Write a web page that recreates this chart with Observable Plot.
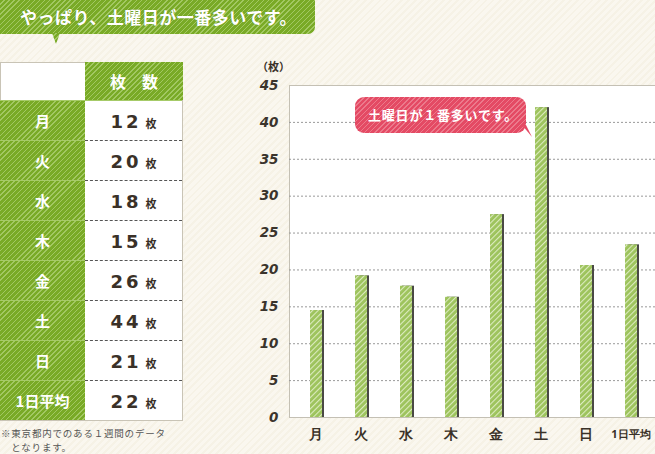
<!DOCTYPE html>
<html><head><meta charset="utf-8">
<script src="https://cdn.jsdelivr.net/npm/d3@7"></script>
<script src="https://cdn.jsdelivr.net/npm/@observablehq/plot@0.6"></script>
<style>
body{margin:0;}
#wrap{position:relative;width:655px;height:454px;overflow:hidden;font-family:"Noto Sans CJK JP",sans-serif;
 background:repeating-linear-gradient(135deg,#faf7ef 0 3px,#f6f2e6 3px 5px);}
#chart{position:absolute;left:0;top:0;}
.green{background:repeating-linear-gradient(135deg,#79aa26 0 2.6px,#a2c862 2.6px 3.6px);}
#banner{position:absolute;left:0;top:0;width:315px;height:34px;border-radius:0 0 7px 0;color:#fff;font-weight:bold;font-size:17px;line-height:34px;padding-left:20px;box-sizing:border-box;letter-spacing:0.5px;text-shadow:0 0 1px rgba(0,0,0,0.2);}
#bannerTail{position:absolute;left:52px;top:33px;width:8px;height:11px;clip-path:polygon(0 0,100% 0,50% 100%);}
.cell{position:absolute;box-sizing:border-box;}
.lab{color:#fff;font-weight:bold;font-size:15px;text-align:center;border-top:1px solid #9cc45a;}
.num{background:#fff;text-align:center;border-top:1px dashed #555;color:#3a3128;}
.num b{font-family:"DejaVu Sans",sans-serif;font-size:18px;letter-spacing:3px;font-weight:bold;}
.num i{font-style:normal;font-size:11px;font-weight:bold;margin-left:4px;}
#note{position:absolute;left:1px;top:426px;font-size:9.5px;color:#555;line-height:14px;letter-spacing:0.8px;}
#unit{position:absolute;left:257px;top:58px;font-size:11px;font-weight:bold;color:#3a3128;}
#callout{position:absolute;left:355px;top:97px;width:171px;height:36px;border-radius:9px;color:#fff;font-weight:bold;font-size:13px;line-height:36px;padding-left:13px;box-sizing:border-box;letter-spacing:0.8px;
 background:repeating-linear-gradient(135deg,#e44a64 0 2.6px,#ec7a8c 2.6px 3.6px);}
#calloutTail{position:absolute;left:522px;top:125px;width:10px;height:12px;background:#e44a64;clip-path:polygon(0 0,40% 0,100% 100%);}
</style></head>
<body>
<div id="wrap">
 <div id="chart"></div>
 <div id="banner" class="green"></div>
 <div id="bannerTail" class="green"></div>
 <div id="table"></div>
 <div id="note"></div>
 <div id="unit"></div>
 <div id="callout"></div>
 <div id="calloutTail"></div>
</div>
<script>
const titleText = "やっぱり、土曜日が一番多いです。";
const calloutText = "土曜日が１番多いです。";
const noteLines = ["※東京都内でのある１週間のデータ", "　となります。"];
const unitLabel = "（枚）";
const headerLabel = "枚　数";
const countUnit = "枚";
const days = ["月","火","水","木","金","土","日","1日平均"];
const tableCounts = [12, 20, 18, 15, 26, 44, 21, 22];
const barValues = [14.5, 19.2, 17.8, 16.3, 27.5, 42.0, 20.6, 23.4];
const yTicks = [0, 5, 10, 15, 20, 25, 30, 35, 40, 45];
const gridTicks = [5, 10, 15, 20, 25, 30, 35, 40];

document.getElementById("banner").textContent = titleText;
document.getElementById("callout").textContent = calloutText;
document.getElementById("note").innerHTML = noteLines.join("<br>");
document.getElementById("unit").textContent = unitLabel;

// table
const tbl = document.getElementById("table");
const top0 = 62, headH = 38, rowH = 40, col1 = 85, col2 = 98;
function cell(cls, x, y, w, h, html, extra) {
  const d = document.createElement("div");
  d.className = "cell " + cls;
  d.style.left = x + "px"; d.style.top = y + "px"; d.style.width = w + "px"; d.style.height = h + "px";
  d.style.lineHeight = h + "px";
  if (extra) Object.assign(d.style, extra);
  d.innerHTML = html;
  tbl.appendChild(d);
}
cell("", 0, top0, col1 + col2, headH + rowH * days.length + 1, "", {border:"1px solid #c9c4b6", background:"#fff"});
cell("green", col1, top0, col2, headH, headerLabel, {color:"#fff", fontWeight:"bold", fontSize:"16px", textAlign:"center"});
days.forEach((d, i) => {
  const y = top0 + headH + i * rowH;
  cell("green lab", 0, y, col1, rowH, d, {borderTop: "1px solid #a6cb68"});
  cell("num", col1, y, col2 - 1, rowH, "<b>" + tableCounts[i] + "</b><i>" + countUnit + "</i>", i === 0 ? {borderTop:"1px solid #a6cb68"} : {});
});

// chart
const data = days.map((d, i) => ({day: d, v: barValues[i]}));
const chart = Plot.plot({
  width: 655, height: 454,
  marginLeft: 289, marginRight: -1, marginTop: 85, marginBottom: 37,
  style: {background: "transparent", overflow: "visible"},
  x: {domain: days, padding: 0, label: null},
  y: {domain: [0, 45], label: null},
  marks: [
    Plot.frame({fill: "#fff", stroke: "#c4c0b4"}),
    Plot.gridY(gridTicks, {stroke: "#999", strokeOpacity: 1, strokeDasharray: "2,2"}),
    Plot.barY(data, {x: "day", y: "v", fill: "#4a4945", insetLeft: 19, insetRight: 14}),
    Plot.barY(data, {x: "day", y: "v", fill: "url(#hb)", insetLeft: 17, insetRight: 16}),
    Plot.axisY(yTicks, {tickSize: 0, tickPadding: 11, fontSize: 13.5, fontWeight: "bold", fontStyle: "italic", fontFamily: "DejaVu Sans, sans-serif", fill: "#3a342c", label: null}),
    Plot.axisX(days.slice(0, 7), {tickSize: 0, tickPadding: 12, fontSize: 14, fontWeight: "bold", fill: "#3a3228", label: null}),
    Plot.axisX(days.slice(7), {tickSize: 0, tickPadding: 13, fontSize: 11, fontWeight: "bold", fill: "#3a3228", label: null})
  ]
});
d3.select(chart).insert("defs", ":first-child").html(
  '<pattern id="hb" patternUnits="userSpaceOnUse" width="4" height="4" patternTransform="rotate(45)">' +
  '<rect width="4" height="4" fill="#9dc35c"/><rect width="1.1" height="4" fill="#dcebc0"/></pattern>');
document.getElementById("chart").appendChild(chart);
</script>
</body></html>
